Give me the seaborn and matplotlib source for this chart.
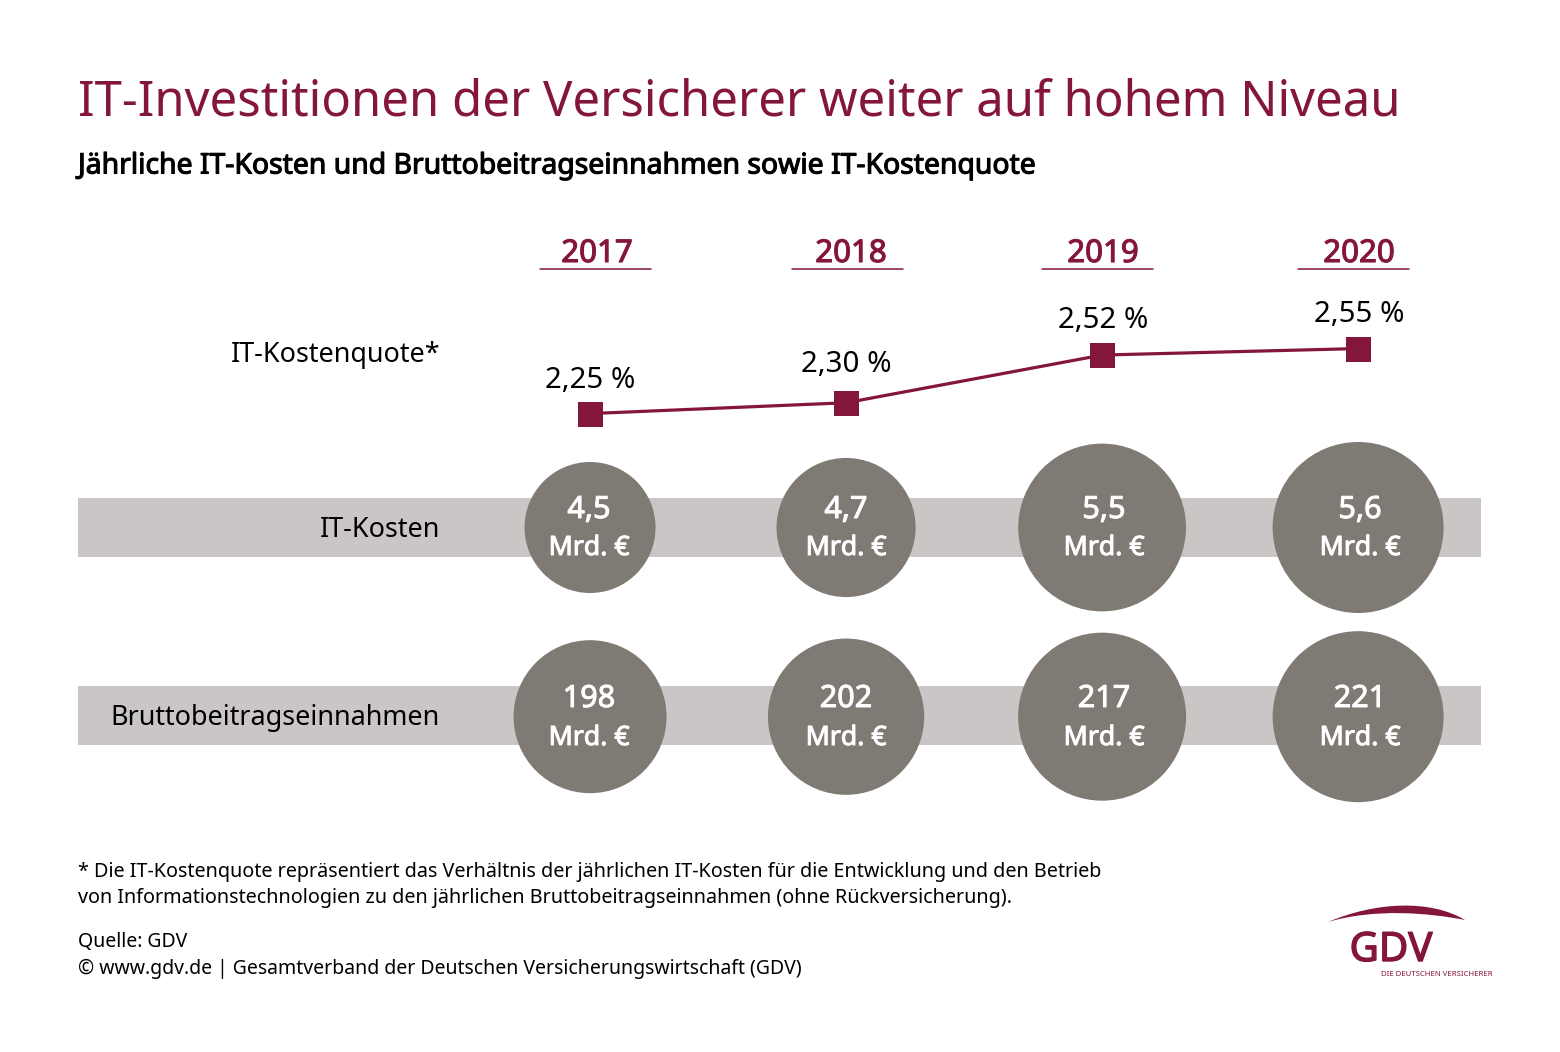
import matplotlib
matplotlib.use("Agg")
import matplotlib.pyplot as plt
import matplotlib.patheffects as pe
from matplotlib.lines import Line2D
from matplotlib.patches import PathPatch
from matplotlib.path import Path
import pandas as pd
import seaborn as sns

# ---- data ----
years = ["2017", "2018", "2019", "2020"]
kostenquote = [2.25, 2.30, 2.52, 2.55]
it_kosten = [4.5, 4.7, 5.5, 5.6]
beitraege = [198, 202, 217, 221]
kosten_labels = ["4,5", "4,7", "5,5", "5,6"]
beitrag_labels = ["198", "202", "217", "221"]

# ---- style ----
W, H = 1560, 1052
MAROON = "#84163b"
CIRCLE = "#7f7a73"
BAND = "#c9c6c5"
FONT = "Noto Sans"

sns.set_theme(style="white")
plt.rcParams["font.family"] = [FONT, "DejaVu Sans"]
fig = plt.figure(figsize=(W / 100, H / 100), dpi=100, facecolor="white")


def axes_px(x0, x1, y0, y1, **kw):
    return fig.add_axes([x0 / W, 1 - y1 / H, (x1 - x0) / W, (y1 - y0) / H], **kw)


XLIM = (-2.0, 3.48)
idx = list(range(len(years)))
area = lambda d: (d * 0.72) ** 2


def band_row(y0, y1, values, dmin, dmax, yc=0.5):
    ax = axes_px(78, 1481, y0, y1, facecolor=BAND)
    df = pd.DataFrame({"i": idx, "v": values})
    sns.scatterplot(data=df, x="i", y=[yc] * 4, size="v",
                    sizes=(area(dmin), area(dmax)),
                    size_norm=(min(values), max(values)),
                    color=CIRCLE, linewidth=0, legend=False, ax=ax,
                    clip_on=False, zorder=3)
    ax.set_xlim(*XLIM)
    ax.set_ylim(0, 1)
    ax.set_xticks([])
    ax.set_yticks([])
    ax.set_xlabel("")
    ax.set_ylabel("")
    for s in ax.spines.values():
        s.set_visible(False)
    return ax


band_row(498, 557, it_kosten, 131, 171)
band_row(686, 745, beitraege, 153, 171, yc=0.48)

# line chart
ax = axes_px(78, 1481, 300, 440)
ax.patch.set_alpha(0)
sns.lineplot(x=idx, y=kostenquote, color=MAROON, linewidth=2.3, marker="s",
             markersize=18, markeredgewidth=0, ax=ax, clip_on=False)
ax.set_xlim(*XLIM)
ax.set_ylim(2.1282, 2.774)
ax.axis("off")

# overlay in pixel coordinates
ov = fig.add_axes([0, 0, 1, 1], zorder=10)
ov.set_xlim(0, W)
ov.set_ylim(H, 0)
ov.axis("off")
ov.patch.set_alpha(0)


def heavy(color, w=0.7):
    return [pe.withStroke(linewidth=w, foreground=color)]


ov.text(78, 103, "IT-Investitionen der Versicherer weiter auf hohem Niveau",
        fontsize=35.3, color=MAROON, va="center", ha="left")
ov.text(78, 166, "Jährliche IT-Kosten und Bruttobeitragseinnahmen sowie IT-Kostenquote",
        fontsize=20.4, color="black", va="center", ha="left", path_effects=heavy("black", 0.8))

for y, x0, x1, xt in zip(years, [540, 792, 1042, 1298], [651, 903, 1153, 1409],
                         [597, 851, 1103, 1359]):
    ov.text(xt, 254, y, fontsize=22.5, color=MAROON, ha="center", va="center",
            path_effects=heavy(MAROON, 0.8))
    ov.add_line(Line2D([x0, x1], [269, 269], color=MAROON, lw=1.1))

for q, xt, yt in zip(kostenquote, [590, 846, 1103, 1359], [381, 364, 320, 315]):
    ov.text(xt, yt, f"{q:.2f} %".replace(".", ","), fontsize=21.2, color="black",
            ha="center", va="center")

ov.text(440, 355, "IT-Kostenquote*", fontsize=19.4, color="black", ha="right", va="center")
ov.text(440, 530, "IT-Kosten", fontsize=19.4, color="black", ha="right", va="center")
ov.text(440, 718, "Bruttobeitragseinnahmen", fontsize=19.4, color="black", ha="right", va="center")

for lab, xt in zip(kosten_labels, [589, 846, 1104, 1360]):
    ov.text(xt, 510, lab, fontsize=22, color="white", ha="center", va="center",
            path_effects=heavy("white"))
    ov.text(xt, 548, "Mrd. €", fontsize=19.2, color="white", ha="center", va="center",
            path_effects=heavy("white"))
for lab, xt in zip(beitrag_labels, [589, 846, 1104, 1360]):
    ov.text(xt, 699, lab, fontsize=22, color="white", ha="center", va="center",
            path_effects=heavy("white"))
    ov.text(xt, 738, "Mrd. €", fontsize=19.2, color="white", ha="center", va="center",
            path_effects=heavy("white"))

foot = [
    (872, 14.25, "* Die IT-Kostenquote repräsentiert das Verhältnis der jährlichen IT-Kosten für die Entwicklung und den Betrieb"),
    (898, 14.25, "von Informationstechnologien zu den jährlichen Bruttobeitragseinnahmen (ohne Rückversicherung)."),
    (942, 14.0, "Quelle: GDV"),
    (969, 14.0, "© www.gdv.de | Gesamtverband der Deutschen Versicherungswirtschaft (GDV)"),
]
for y, fs, t in foot:
    ov.text(78, y, t, fontsize=fs, color="black", ha="left", va="center")

# logo
verts = [(1328, 922), (1375, 902), (1430, 899), (1465, 920),
         (1430, 913), (1375, 908), (1328, 922)]
codes = [Path.MOVETO, Path.CURVE4, Path.CURVE4, Path.CURVE4,
         Path.CURVE4, Path.CURVE4, Path.CURVE4]
ov.add_patch(PathPatch(Path(verts, codes), facecolor=MAROON, edgecolor="none"))
ov.text(1391, 946, "GDV", fontsize=29, color=MAROON, ha="center", va="center_baseline",
        path_effects=heavy(MAROON, 1.0))
ov.text(1437, 974, "DIE DEUTSCHEN VERSICHERER", fontsize=5.6, color=MAROON, ha="center", va="center")

fig.savefig("out.png", dpi=100, facecolor="white")
